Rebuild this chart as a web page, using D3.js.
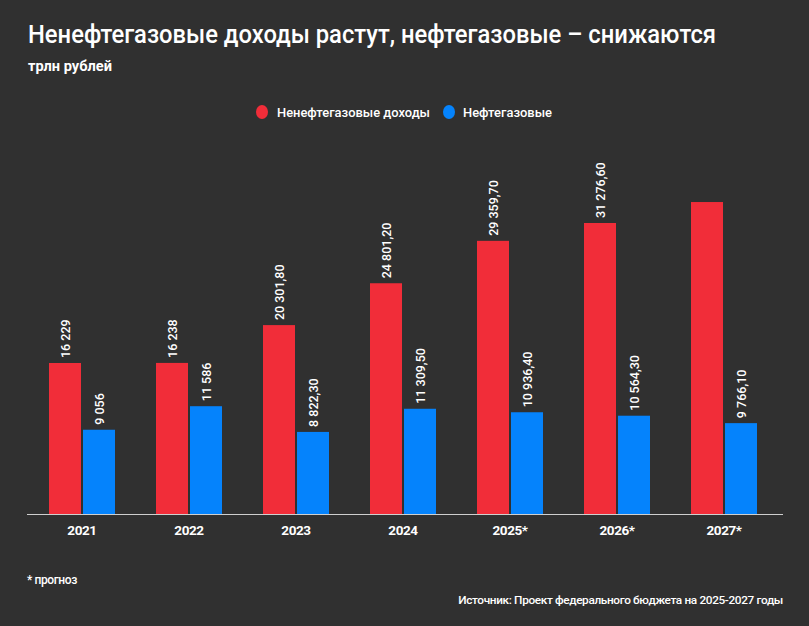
<!DOCTYPE html>
<html><head><meta charset="utf-8">
<script src="https://cdn.jsdelivr.net/npm/d3@7"></script>
<style>
html,body{margin:0;padding:0;background:#303030;}
svg{display:block;font-family:Roboto, "Noto Sans", sans-serif;}
</style></head>
<body>
<svg id="chart" width="809" height="626"></svg>
<script>
const categories = ["2021","2022","2023","2024","2025*","2026*","2027*"];
const seriesNames = ["Ненефтегазовые доходы","Нефтегазовые"];
const nonOil = [16229, 16238, 20301.8, 24801.2, 29359.7, 31276.6, 33530];
const oil = [9056, 11586, 8822.3, 11309.5, 10936.4, 10564.3, 9766.1];
const nonOilLabels = ["16 229","16 238","20 301,80","24 801,20","29 359,70","31 276,60",""];
const oilLabels = ["9 056","11 586","8 822,30","11 309,50","10 936,40","10 564,30","9 766,10"];
const colors = ["#f12d39","#0583fc"];

const svg = d3.select("#chart");
const W = 809, H = 626;
svg.append("rect").attr("width",W).attr("height",H).attr("fill","#303030");

const baseY = 514;
const x = d3.scaleBand().domain(categories).range([28.5, 777.5]).paddingInner(0).paddingOuter(0);
const y = d3.scaleLinear().domain([0, 16229]).range([baseY, 363]);
const bw = 32, gap = 2;

// title
svg.append("text").attr("x",28).attr("y",43).attr("fill","#fff")
  .attr("font-size",26.5).attr("font-weight",500)
  .attr("textLength",688).attr("lengthAdjust","spacingAndGlyphs")
  .text("Ненефтегазовые доходы растут, нефтегазовые – снижаются");
svg.append("text").attr("x",28).attr("y",71).attr("fill","#fff")
  .attr("font-size",14.5).attr("font-weight",700)
  .attr("textLength",84).attr("lengthAdjust","spacingAndGlyphs")
  .text("трлн рублей");

// legend
const leg = svg.append("g");
[[262,277,0,153],[449,463,1,89]].forEach(([cx,tx,i,len])=>{
  leg.append("ellipse").attr("cx",cx).attr("cy",112).attr("rx",6).attr("ry",7).attr("fill",colors[i]);
  leg.append("text").attr("x",tx).attr("y",117).attr("fill","#fff").attr("font-size",13.5)
    .attr("font-weight",500).attr("textLength",len).attr("lengthAdjust","spacingAndGlyphs")
    .text(seriesNames[i]);
});

const series = [nonOil, oil];
const labels = [nonOilLabels, oilLabels];
series.forEach((vals, si)=>{
  const g = svg.append("g");
  g.selectAll("rect").data(vals).join("rect")
    .attr("x",(d,i)=>x(categories[i]) + x.bandwidth()/2 + (si===0 ? -bw - gap/2 : gap/2))
    .attr("y",d=>y(d)).attr("width",bw).attr("height",d=>baseY - y(d))
    .attr("fill",colors[si]);
  g.selectAll("text").data(vals).join("text")
    .attr("transform",(d,i)=>{
      const cx = x(categories[i]) + x.bandwidth()/2 + (si===0 ? -bw/2 - gap/2 : bw/2 + gap/2);
      return `translate(${cx+4.5},${y(d)-5}) rotate(-90)`;
    })
    .attr("fill","#fff").attr("font-size",12.5).attr("font-weight",500)
    .text((d,i)=>labels[si][i]);
});

// axis
const axis = d3.axisBottom(x).tickSize(0).tickPadding(11);
const ag = svg.append("g").attr("transform",`translate(0,${baseY})`).call(axis);
ag.select(".domain").remove();
svg.append("line").attr("x1",27).attr("x2",783).attr("y1",baseY+0.5).attr("y2",baseY+0.5)
  .attr("stroke","#cfcfcf").attr("stroke-width",1);
ag.selectAll("text").attr("fill","#fff").attr("font-size",13.5).attr("font-weight",700)
  .attr("font-family","Roboto, sans-serif").attr("letter-spacing",-0.4);

svg.append("text").attr("x",27).attr("y",584).attr("fill","#fff").attr("font-size",12)
  .attr("font-weight",500).attr("letter-spacing",-0.4).text("* прогноз");
svg.append("text").attr("x",783).attr("y",604).attr("text-anchor","end").attr("fill","#fff")
  .attr("font-size",11.8).attr("font-weight",500).attr("letter-spacing",-0.35)
  .text("Источник: Проект федерального бюджета на 2025-2027 годы");
</script>
</body></html>
